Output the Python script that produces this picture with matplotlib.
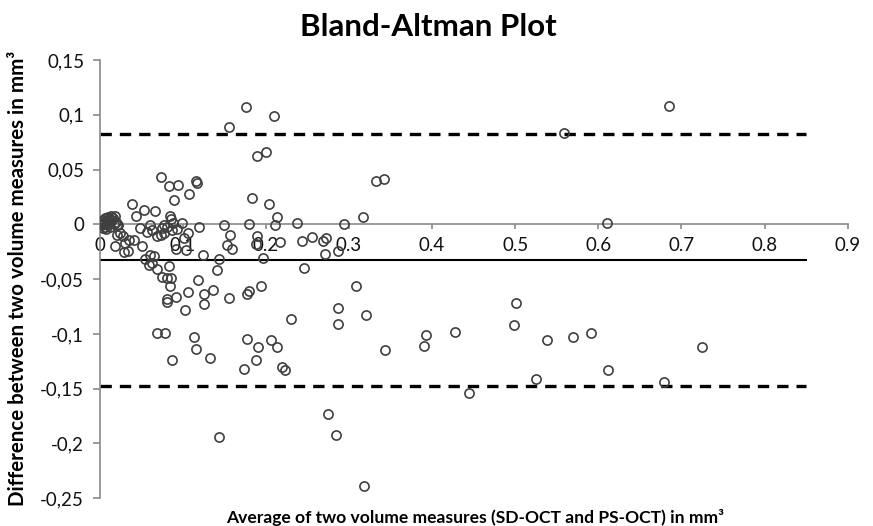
import numpy as np
import matplotlib.pyplot as plt

plt.rcParams['font.family'] = ['Lato', 'DejaVu Sans']

### DATA ###
# average of the two volume measures (mm^3)
avg_vol = [
    0.001, 0.002, 0.003, 0.004, 0.005, 0.007, 0.008, 0.009, 0.010, 0.011,
    0.013, 0.014, 0.015, 0.016, 0.017, 0.019, 0.004, 0.008, 0.013, 0.020,
    0.022, 0.002, 0.007, 0.021,
    0.156, 0.176, 0.210, 0.189, 0.200, 0.074, 0.084, 0.095, 0.116, 0.117,
    0.108, 0.089, 0.039, 0.053, 0.067, 0.044, 0.085, 0.086, 0.184, 0.204,
    0.213, 0.332, 0.342, 0.317, 0.685, 0.559, 0.610,
    0.049, 0.061, 0.063, 0.057, 0.077, 0.081, 0.075, 0.088, 0.099, 0.093,
    0.120, 0.150, 0.180, 0.211, 0.238, 0.294, 0.069, 0.074, 0.077, 0.087,
    0.106, 0.157, 0.190, 0.025, 0.028, 0.021, 0.035, 0.041, 0.031, 0.019,
    0.029, 0.034, 0.051, 0.102, 0.092, 0.104, 0.217, 0.153, 0.159, 0.188,
    0.244, 0.256, 0.269, 0.273, 0.287, 0.271, 0.125,
    0.055, 0.061, 0.065, 0.059, 0.063, 0.069, 0.083, 0.075, 0.081, 0.086,
    0.085, 0.144, 0.141, 0.197, 0.246, 0.118, 0.106, 0.092, 0.081, 0.081,
    0.126, 0.137, 0.156, 0.177, 0.180, 0.194, 0.103, 0.126, 0.230, 0.287,
    0.287, 0.309, 0.320, 0.069, 0.079, 0.114, 0.116, 0.087, 0.133, 0.177,
    0.191, 0.206, 0.213, 0.188, 0.174, 0.220, 0.223, 0.343, 0.393, 0.390,
    0.428, 0.501, 0.499, 0.538, 0.570, 0.591, 0.725, 0.612, 0.525, 0.679,
    0.444, 0.275, 0.284, 0.144, 0.318,
]
# difference between the two volume measures (mm^3)
diff_vol = [
    0.000, 0.002, -0.001, 0.004, 0.001, 0.006, 0.000, 0.003, 0.007, 0.005,
    0.002, 0.008, 0.004, 0.006, 0.000, 0.008, -0.003, -0.004, -0.002, 0.002,
    -0.001, 0.000, -0.002, -0.0005,
    0.089, 0.107, 0.099, 0.062, 0.066, 0.043, 0.035, 0.036, 0.040, 0.038,
    0.028, 0.022, 0.019, 0.013, 0.012, 0.008, 0.008, 0.005, 0.024, 0.019,
    0.007, 0.040, 0.041, 0.0066, 0.108, 0.083, 0.001,
    -0.0035, -0.0005, -0.005, -0.0066, -0.0005, -0.002, -0.0035, 0.001, 0.001, -0.0046,
    -0.002, -0.001, 0.0002, -0.001, 0.0016, 0.0002, -0.011, -0.0096, -0.0075, -0.005,
    -0.008, -0.0096, -0.0103, -0.008, -0.011, -0.0096, -0.014, -0.014, -0.017, -0.020,
    -0.025, -0.024, -0.020, -0.0126, -0.0226, -0.023, -0.016, -0.0187, -0.0226, -0.018,
    -0.015, -0.0117, -0.015, -0.0126, -0.024, -0.027, -0.028,
    -0.032, -0.028, -0.029, -0.037, -0.035, -0.041, -0.038, -0.048, -0.049, -0.049,
    -0.056, -0.032, -0.042, -0.031, -0.040, -0.051, -0.062, -0.066, -0.068, -0.071,
    -0.064, -0.060, -0.067, -0.064, -0.061, -0.056, -0.078, -0.073, -0.086, -0.076,
    -0.091, -0.056, -0.083, -0.099, -0.099, -0.103, -0.114, -0.124, -0.122, -0.105,
    -0.112, -0.106, -0.112, -0.124, -0.132, -0.130, -0.133, -0.115, -0.101, -0.111,
    -0.098, -0.072, -0.092, -0.106, -0.103, -0.099, -0.112, -0.133, -0.141, -0.144,
    -0.154, -0.173, -0.192, -0.194, -0.239,
]

mean_diff = -0.0325
upper_loa = 0.0825
lower_loa = -0.1475
line_end = 0.85

x_ticks = [0, 0.1, 0.2, 0.3, 0.4, 0.5, 0.6, 0.7, 0.8, 0.9]
x_tick_labels = ["0", "0.1", "0.2", "0.3", "0.4", "0.5", "0.6", "0.7", "0.8", "0.9"]
y_ticks = [-0.25, -0.2, -0.15, -0.1, -0.05, 0, 0.05, 0.1, 0.15]
y_tick_labels = ["-0,25", "-0,2", "-0,15", "-0,1", "-0,05", "0", "0,05", "0,1", "0,15"]

axis_grey = "#8a8a8a"
marker_grey = "#3f3f3f"

fig = plt.figure(figsize=(8.73, 5.26), dpi=100)
ax = fig.add_axes([0.114, 0.0527, 0.857, 0.8333])

# limits of agreement and mean difference
ax.plot([0, line_end], [upper_loa, upper_loa], color="black", lw=2.4, ls=(0, (3.4, 2.4)), zorder=2)
ax.plot([0, line_end], [lower_loa, lower_loa], color="black", lw=2.4, ls=(0, (3.4, 2.4)), zorder=2)
ax.plot([0, line_end], [mean_diff, mean_diff], color="black", lw=1.5, zorder=2)

ax.plot(avg_vol, diff_vol, "o", ms=6.6, mfc="none", mec=marker_grey, mew=1.2, zorder=3)

ax.set_xlim(0, 0.9)
ax.set_ylim(-0.25, 0.15)

ax.spines["top"].set_visible(False)
ax.spines["right"].set_visible(False)
ax.spines["bottom"].set_position(("data", 0))
ax.spines["left"].set_color(axis_grey)
ax.spines["bottom"].set_color(axis_grey)
ax.spines["left"].set_linewidth(1.2)
ax.spines["bottom"].set_linewidth(1.2)

ax.set_xticks(x_ticks)
ax.set_xticklabels(x_tick_labels)
ax.set_yticks(y_ticks)
ax.set_yticklabels(y_tick_labels)
ax.tick_params(axis="x", direction="out", length=3.8, width=1.2, color=axis_grey,
               labelsize=13.5, pad=5, labelcolor="#111111")
ax.tick_params(axis="y", direction="out", length=5, width=1.2, color=axis_grey,
               labelsize=13.5, pad=6, labelcolor="#111111")

fig.text(428 / 873, 1 - 27.5 / 526, "Bland-Altman Plot", ha="center", va="center",
         fontsize=22.5, fontweight="bold")
fig.text(475 / 873, 1 - 517 / 526,
         "Average of two volume measures (SD-OCT and PS-OCT) in mm\u00b3",
         ha="center", va="center", fontsize=12.6, fontweight="bold")
fig.text(18 / 873, 1 - 278 / 526,
         "Difference between two volume measures in mm\u00b3",
         ha="center", va="center", rotation=90, fontsize=14.8, fontweight="bold")

plt.savefig("out.png", dpi=100)
